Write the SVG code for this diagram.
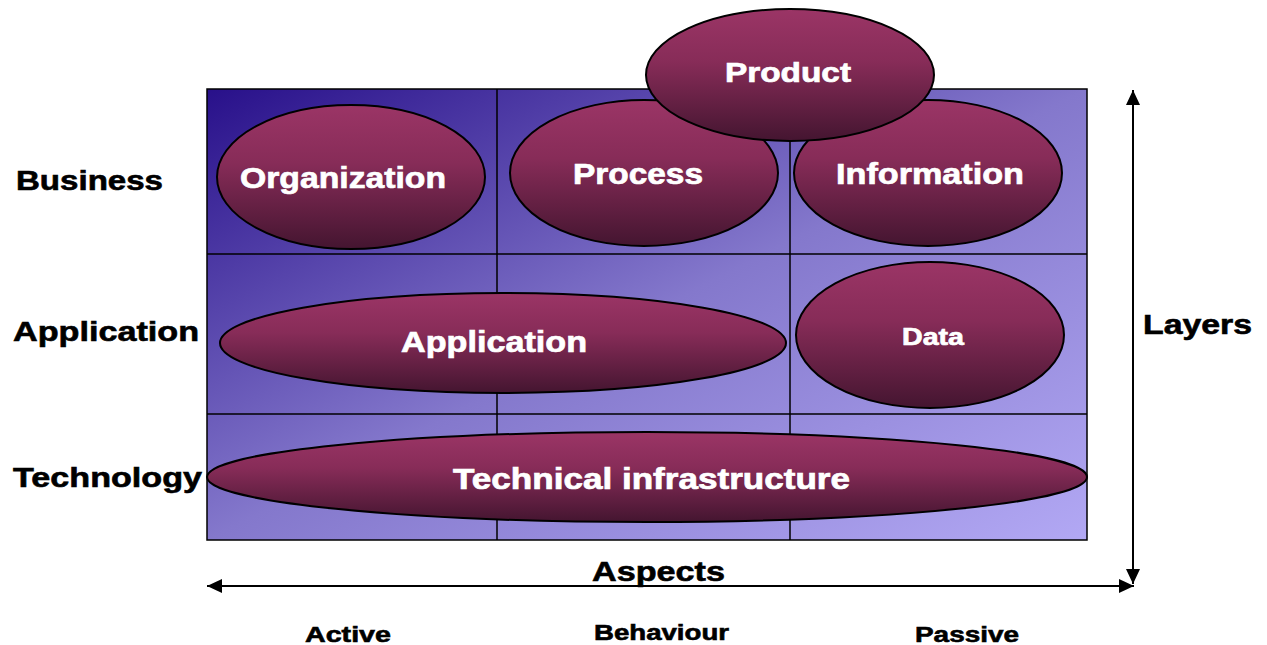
<svg xmlns="http://www.w3.org/2000/svg" width="1267" height="645" viewBox="0 0 1267 645">
<defs>
<linearGradient id="bg" x1="0" y1="0" x2="1" y2="1">
<stop offset="0" stop-color="#28108a"/>
<stop offset="0.5" stop-color="#8478cc"/>
<stop offset="1" stop-color="#b2a8f4"/>
</linearGradient>
<linearGradient id="ell" x1="0" y1="0" x2="0" y2="1">
<stop offset="0" stop-color="#9b3566"/>
<stop offset="0.4" stop-color="#872c58"/>
<stop offset="1" stop-color="#441530"/>
</linearGradient>
<marker id="ah" markerWidth="16" markerHeight="14" refX="15" refY="7" orient="auto" markerUnits="userSpaceOnUse">
<path d="M0,0 L15,7 L0,14 Z" fill="#000"/>
</marker>
<style>
.node{fill:url(#ell);stroke:#000;stroke-width:2}
.wt{fill:#fff;stroke:#fff;stroke-width:0.7;font-family:"Liberation Sans",Arial,sans-serif;font-weight:bold}
.bt{fill:#000;stroke:#000;stroke-width:0.6;font-family:"Liberation Sans",Arial,sans-serif;font-weight:bold}
.grid{stroke:#000;stroke-width:1.5;fill:none}
</style>
</defs>
<g id="grid">
<rect x="207" y="89" width="880" height="451" fill="url(#bg)"/>
<rect class="grid" x="207" y="89" width="880" height="451"/>
<line class="grid" x1="497" y1="89" x2="497" y2="540"/>
<line class="grid" x1="790" y1="89" x2="790" y2="540"/>
<line class="grid" x1="207" y1="254" x2="1087" y2="254"/>
<line class="grid" x1="207" y1="414" x2="1087" y2="414"/>
</g>
<g id="labels">
<text class="bt" x="16" y="190" font-size="27" textLength="147" lengthAdjust="spacingAndGlyphs">Business</text>
<text class="bt" x="13" y="341" font-size="27" textLength="186" lengthAdjust="spacingAndGlyphs">Application</text>
<text class="bt" x="13" y="487" font-size="27" textLength="189" lengthAdjust="spacingAndGlyphs">Technology</text>
<text class="bt" x="1143" y="334" font-size="27" textLength="109" lengthAdjust="spacingAndGlyphs">Layers</text>
<text class="bt" x="592" y="581" font-size="28" textLength="133" lengthAdjust="spacingAndGlyphs">Aspects</text>
<text class="bt" x="305" y="642" font-size="22" textLength="86" lengthAdjust="spacingAndGlyphs">Active</text>
<text class="bt" x="594" y="640" font-size="22" textLength="135" lengthAdjust="spacingAndGlyphs">Behaviour</text>
<text class="bt" x="915" y="642" font-size="22" textLength="104" lengthAdjust="spacingAndGlyphs">Passive</text>
</g>
<g id="connectors">
<line x1="1133" y1="583" x2="1133" y2="90" stroke="#000" stroke-width="2" marker-end="url(#ah)"/>
<line x1="1133" y1="90" x2="1133" y2="584" stroke="#000" stroke-width="2" marker-end="url(#ah)"/>
<line x1="1133" y1="586" x2="207" y2="586" stroke="#000" stroke-width="2" marker-end="url(#ah)"/>
<line x1="208" y1="586" x2="1134" y2="586" stroke="#000" stroke-width="2" marker-end="url(#ah)"/>
</g>
<g id="technical-infrastructure">
<ellipse class="node" cx="647" cy="477" rx="440" ry="45"/>
<text class="wt" x="453" y="489" font-size="29" textLength="397" lengthAdjust="spacingAndGlyphs">Technical infrastructure</text>
</g>
<g id="application">
<ellipse class="node" cx="503" cy="343" rx="283" ry="50"/>
<text class="wt" x="401" y="352" font-size="29" textLength="186" lengthAdjust="spacingAndGlyphs">Application</text>
</g>
<g id="data">
<ellipse class="node" cx="930" cy="335" rx="134" ry="73"/>
<text class="wt" x="902" y="345" font-size="24" textLength="62" lengthAdjust="spacingAndGlyphs">Data</text>
</g>
<g id="organization">
<ellipse class="node" cx="351" cy="177" rx="134" ry="72"/>
<text class="wt" x="240" y="188" font-size="30" textLength="206" lengthAdjust="spacingAndGlyphs">Organization</text>
</g>
<g id="process">
<ellipse class="node" cx="644" cy="173" rx="134" ry="73"/>
<text class="wt" x="573" y="184" font-size="29" textLength="130" lengthAdjust="spacingAndGlyphs">Process</text>
</g>
<g id="information">
<ellipse class="node" cx="928" cy="173" rx="134" ry="73"/>
<text class="wt" x="836" y="184" font-size="29" textLength="188" lengthAdjust="spacingAndGlyphs">Information</text>
</g>
<g id="product">
<ellipse class="node" cx="790" cy="75" rx="144" ry="66"/>
<text class="wt" x="725" y="82" font-size="28" textLength="126" lengthAdjust="spacingAndGlyphs">Product</text>
</g>
</svg>
